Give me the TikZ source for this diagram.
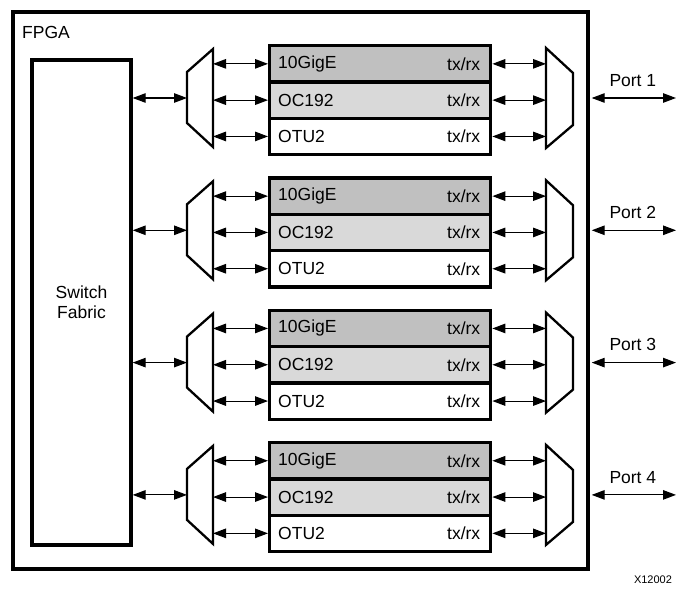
\documentclass[tikz,border=0pt]{standalone}
\usepackage{fontspec}
\setmainfont{Liberation Sans}
\usetikzlibrary{arrows.meta,calc}
\def\totalwidth{689}
\def\totalheight{591}
\def\groupstep{132.3}
\def\rowh{36.3}
\definecolor{rateA}{RGB}{192,192,192}
\definecolor{rateB}{RGB}{217,217,217}
\tikzstyle{box}                  = [draw,line width=3.4pt,inner sep=0pt]
\tikzstyle{ratebox}[white]       = [box,fill=#1,anchor=north west,
                                    minimum width=221pt,minimum height=\rowh pt]
\tikzstyle{mux}                  = [draw,line width=2.3pt,line join=miter]
\tikzstyle{link}                 = [line width=1.1pt,
                                    {Triangle[length=13pt,width=9.5pt]}-{Triangle[length=13pt,width=9.5pt]}]
\tikzstyle{lbl}                  = [inner sep=0pt]

\begin{document}
\begin{tikzpicture}[x=1pt,y=-1pt,font=\fontsize{17.5}{20}\selectfont]
        \useasboundingbox (0,0) rectangle (\totalwidth,\totalheight);

        % FPGA
        \node[box,minimum width=575pt,minimum height=557pt] (fpga) at (300.5,290.5) {};
        \node[lbl,anchor=west] (fpganame) at (22,32) {FPGA};

        % Switch fabric
        \node[box,minimum width=99pt,minimum height=485pt,align=center] (fabric) at (81.5,302.5) {Switch\\Fabric};

        % Ports
        \foreach \k/\p in {0/1,1/2,2/3,3/4}{
            \begin{scope}[shift={(0,\k*\groupstep)}]
                \draw[mux] (187,72) -- (213,49) -- (213,147) -- (187,123) -- cycle;
                \draw[mux] (546,48) -- (573,73) -- (573,125) -- (546,148) -- cycle;
                \coordinate (lmi\k) at (187,98);
                \coordinate (lmo\k) at (213,98);
                \coordinate (rmi\k) at (546,98);
                \coordinate (port\k) at (676,98);

                \foreach \j/\ratename/\fillc in {0/10GigE/rateA,1/OC192/rateB,2/OTU2/white}{
                    \node[ratebox=\fillc] (r\k-\j) at (268,44+\j*\rowh) {};
                    \node[lbl,anchor=west,xshift=10pt] (n\k-\j) at (r\k-\j.west) {\ratename};
                    \node[lbl,anchor=east,xshift=-12pt] (t\k-\j) at (r\k-\j.east) {tx/rx};
                    \draw[link] (lmo\k |- r\k-\j.west) -- (r\k-\j.west);
                    \draw[link] (r\k-\j.east) -- (rmi\k |- r\k-\j.east);
                }
                \draw[link] (fabric.east |- lmi\k) -- (lmi\k);
                \draw[link,shorten <=2pt] (fpga.east |- port\k) -- (port\k)
                      node[midway,above=11pt,lbl] (pn\k) {Port \p};
            \end{scope}
        }

        \node[lbl,font=\fontsize{11}{12}\selectfont] (fig) at (653,580) {X12002};
    \end{tikzpicture}
\end{document}
